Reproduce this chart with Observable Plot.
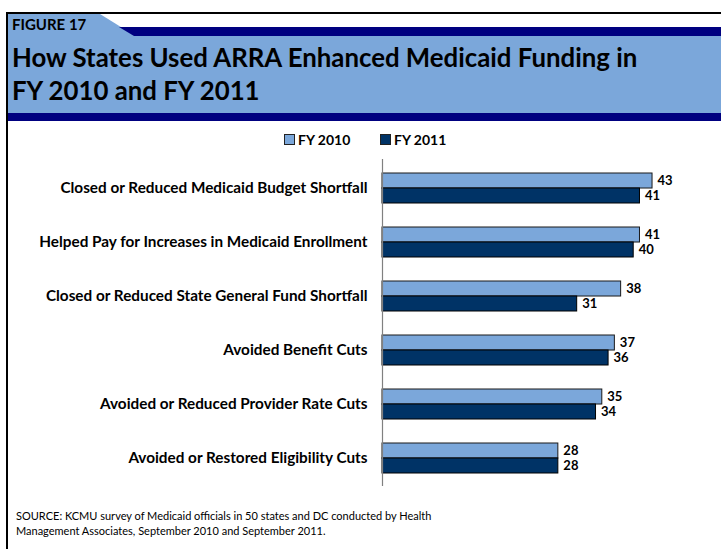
<!DOCTYPE html>
<html>
<head>
<meta charset="utf-8">
<script src="https://cdn.jsdelivr.net/npm/d3@7"></script>
<script src="https://cdn.jsdelivr.net/npm/@observablehq/plot@0.6"></script>
<style>
  html, body { margin: 0; padding: 0; background: #fff; }
  body { width: 721px; height: 549px; overflow: hidden; position: relative; font-family: Lato, "Open Sans", sans-serif; }
  #frame { position: absolute; left: 6px; top: 12px; width: 800px; height: 600px; border-top: 2px solid #000; border-left: 2px solid #000; }
  #header { position: absolute; left: 0; top: 0; }
  #legend { position: absolute; top: 130px; left: 0; width: 721px; height: 18px; font-weight: bold; font-size: 14px; color: #000; }
  #legend .item { position: absolute; top: 0; display: flex; align-items: center; height: 18px; }
  #legend .sw { width: 9px; height: 9px; border: 1px solid #222; margin-right: 3px; }
  #chart { position: absolute; left: 0; top: 125px; }
  #source { position: absolute; left: 16px; top: 508px; font-size: 11px; line-height: 15px; color: #000; }
</style>
</head>
<body>
<div id="frame"></div>
<svg id="header" width="721" height="125" xmlns="http://www.w3.org/2000/svg">
  <polygon points="8,14 100,14 137,37 8,37" fill="#7BA7DA"/>
  <polygon points="119,27 721,27 721,36 134,36" fill="#000080"/>
  <rect x="8" y="36" width="713" height="77" fill="#7BA7DA"/>
  <rect x="8" y="113" width="713" height="8" fill="#000080"/>
  <text id="fig" x="12" y="30" font-family="Lato" font-weight="bold" font-size="15" fill="#000"></text>
  <text id="t1" x="12" y="67" font-family="Lato" font-weight="bold" font-size="25.8" fill="#000"></text>
  <text id="t2" x="12" y="100" font-family="Lato" font-weight="bold" font-size="25.8" fill="#000"></text>
</svg>
<div id="legend"></div>
<div id="chart"></div>
<div id="source"></div>
<script>
const figureLabel = "FIGURE 17";
const titleLines = ["How States Used ARRA Enhanced Medicaid Funding in", "FY 2010 and FY 2011"];
const sourceLines = ["SOURCE: KCMU survey of Medicaid officials in 50 states and DC conducted by Health", "Management Associates, September 2010 and September 2011."];

const categories = [
  "Closed or Reduced Medicaid Budget Shortfall",
  "Helped Pay for Increases in Medicaid Enrollment",
  "Closed or Reduced State General Fund Shortfall",
  "Avoided Benefit Cuts",
  "Avoided or Reduced Provider Rate Cuts",
  "Avoided or Restored Eligibility Cuts"
];
const seriesNames = ["FY 2010", "FY 2011"];
const seriesColors = ["#7BA7DA", "#003366"];
const fy2010 = [43, 41, 38, 37, 35, 28];
const fy2011 = [41, 40, 31, 36, 34, 28];

document.getElementById("fig").textContent = figureLabel;
document.getElementById("t1").textContent = titleLines[0];
document.getElementById("t2").textContent = titleLines[1];
document.getElementById("source").innerHTML = sourceLines.join("<br>");

const legend = document.getElementById("legend");
const legendX = [284, 380];
seriesNames.forEach((name, i) => {
  const item = document.createElement("div");
  item.className = "item";
  item.style.left = legendX[i] + "px";
  const sw = document.createElement("span");
  sw.className = "sw";
  sw.style.background = seriesColors[i];
  item.appendChild(sw);
  item.appendChild(document.createTextNode(name));
  legend.appendChild(item);
});

const d2010 = categories.map((c, i) => ({category: c, value: fy2010[i]}));
const d2011 = categories.map((c, i) => ({category: c, value: fy2011[i]}));

const height = 380, marginTop = 34, marginBottom = 19;
const paddingInner = 0.45, paddingOuter = 0.225;
const step = (height - marginTop - marginBottom) / (categories.length - paddingInner + 2 * paddingOuter);
const band = step * (1 - paddingInner);
const half = band / 2;

const chart = Plot.plot({
  width: 721,
  height,
  marginTop,
  marginBottom,
  marginLeft: 382,
  marginRight: 25,
  style: {fontFamily: "Lato, sans-serif", fontSize: "13px", fontWeight: "bold", background: "transparent", color: "#000"},
  x: {domain: [0, 50], axis: null},
  y: {domain: categories, paddingInner, paddingOuter, axis: null},
  marks: [
    Plot.axisY({tickSize: 0, tickPadding: 15, label: null, fontSize: 15.3, fill: "#000"}),
    Plot.barX(d2010, {x: "value", y: "category", fill: seriesColors[0], stroke: "#1a1a1a", strokeWidth: 1, insetBottom: half}),
    Plot.barX(d2011, {x: "value", y: "category", fill: seriesColors[1], stroke: "#000", strokeWidth: 1, insetTop: half}),
    Plot.ruleX([0], {stroke: "#808080", strokeWidth: 1.2}),
    Plot.text(d2010, {x: "value", y: "category", text: d => String(d.value), dx: 5, dy: -half / 2, textAnchor: "start", fontSize: 13, fill: "#000"}),
    Plot.text(d2011, {x: "value", y: "category", text: d => String(d.value), dx: 5, dy: half / 2, textAnchor: "start", fontSize: 13, fill: "#000"})
  ]
});
document.getElementById("chart").appendChild(chart);
</script>
</body>
</html>
